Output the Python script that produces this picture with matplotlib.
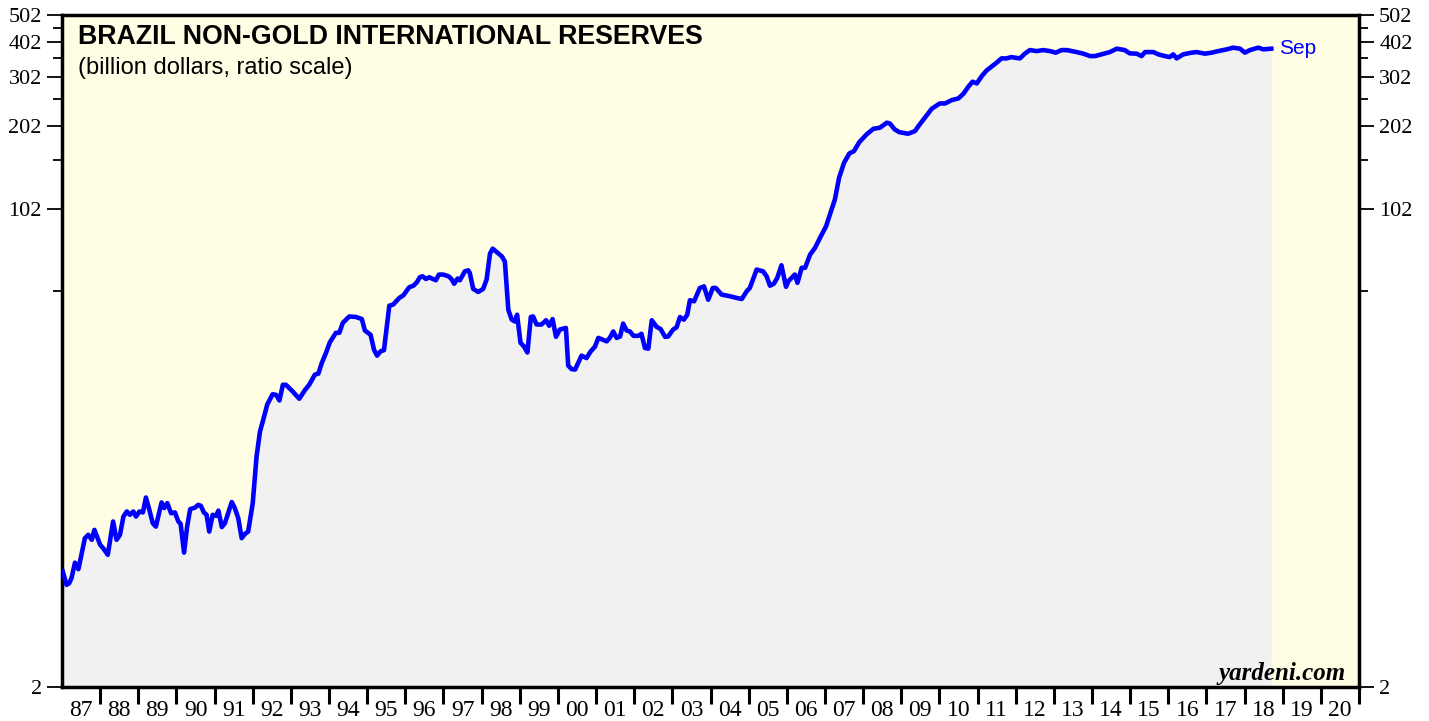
import matplotlib
matplotlib.use("Agg")
import matplotlib.pyplot as plt
from matplotlib.ticker import FixedLocator, NullFormatter, FixedFormatter

# Decimal-year dates and reserve values (billion US$)
dates = [1987.02, 1987.12, 1987.19, 1987.25, 1987.34, 1987.43, 1987.60, 1987.69, 1987.78, 1987.85,
         1988.00, 1988.08, 1988.20, 1988.34, 1988.43, 1988.52, 1988.61, 1988.70, 1988.78, 1988.87,
         1988.94, 1989.03, 1989.12, 1989.20, 1989.29, 1989.38, 1989.46, 1989.61, 1989.68, 1989.76,
         1989.86, 1989.96, 1990.05, 1990.11, 1990.20, 1990.28, 1990.36, 1990.49, 1990.57, 1990.64,
         1990.72, 1990.79, 1990.86, 1990.95, 1991.04, 1991.10, 1991.19, 1991.27, 1991.45, 1991.53,
         1991.62, 1991.71, 1991.80, 1991.88, 1992.00, 1992.10, 1992.19, 1992.28, 1992.38, 1992.52,
         1992.61, 1992.70, 1992.79, 1992.87, 1993.05, 1993.22, 1993.37, 1993.48, 1993.63, 1993.72,
         1993.81, 1993.92, 1994.02, 1994.18, 1994.27, 1994.36, 1994.53, 1994.71, 1994.86, 1994.94,
         1995.09, 1995.18, 1995.26, 1995.35, 1995.44, 1995.58, 1995.68, 1995.84, 1995.95, 1996.10,
         1996.21, 1996.30, 1996.38, 1996.45, 1996.54, 1996.63, 1996.72, 1996.80, 1996.88, 1996.99,
         1997.13, 1997.21, 1997.28, 1997.37, 1997.43, 1997.56, 1997.65, 1997.69, 1997.78, 1997.91,
         1998.04, 1998.13, 1998.22, 1998.29, 1998.39, 1998.53, 1998.61, 1998.70, 1998.79, 1998.87,
         1998.93, 1999.02, 1999.11, 1999.20, 1999.29, 1999.35, 1999.44, 1999.57, 1999.69, 1999.77,
         1999.86, 1999.95, 2000.05, 2000.21, 2000.27, 2000.36, 2000.45, 2000.62, 2000.75, 2000.86,
         2000.97, 2001.06, 2001.28, 2001.36, 2001.45, 2001.54, 2001.63, 2001.71, 2001.80, 2001.89,
         2001.98, 2002.11, 2002.19, 2002.28, 2002.37, 2002.46, 2002.59, 2002.69, 2002.81, 2002.89,
         2003.02, 2003.11, 2003.20, 2003.30, 2003.39, 2003.46, 2003.57, 2003.72, 2003.83, 2003.94,
         2004.06, 2004.14, 2004.29, 2004.51, 2004.69, 2004.82, 2004.95, 2005.03, 2005.21, 2005.38,
         2005.47, 2005.56, 2005.66, 2005.75, 2005.86, 2005.98, 2006.04, 2006.21, 2006.28, 2006.39,
         2006.48, 2006.61, 2006.74, 2006.87, 2007.03, 2007.13, 2007.26, 2007.37, 2007.50, 2007.64,
         2007.76, 2007.90, 2008.09, 2008.27, 2008.44, 2008.62, 2008.70, 2008.83, 2008.95, 2009.18,
         2009.36, 2009.45, 2009.62, 2009.80, 2010.01, 2010.15, 2010.32, 2010.50, 2010.63, 2010.76,
         2010.87, 2010.98, 2011.11, 2011.24, 2011.41, 2011.50, 2011.63, 2011.76, 2011.89, 2011.98,
         2012.11, 2012.24, 2012.37, 2012.55, 2012.72, 2012.90, 2013.05, 2013.20, 2013.34, 2013.60,
         2013.77, 2013.95, 2014.08, 2014.25, 2014.47, 2014.65, 2014.86, 2014.99, 2015.17, 2015.30,
         2015.39, 2015.61, 2015.74, 2015.91, 2016.04, 2016.13, 2016.22, 2016.39, 2016.61, 2016.74,
         2016.96, 2017.14, 2017.31, 2017.53, 2017.70, 2017.88, 2018.01, 2018.14, 2018.36, 2018.49,
         2018.70]

reserves = [5.17, 4.63, 4.70, 4.90, 5.56, 5.27, 6.80, 6.99, 6.71, 7.28,
            6.44, 6.26, 5.93, 7.80, 6.71, 6.99, 8.12, 8.47, 8.24, 8.47,
            8.12, 8.47, 8.40, 9.50, 8.58, 7.69, 7.48, 9.12, 8.71, 9.07,
            8.35, 8.40, 7.80, 7.65, 6.04, 7.48, 8.63, 8.75, 8.94, 8.87,
            8.40, 8.24, 7.18, 8.24, 8.17, 8.53, 7.45, 7.69, 9.15, 8.71,
            8.02, 6.80, 7.05, 7.18, 9.07, 13.3, 16.35, 18.1, 20.4, 22.2,
            22.1, 21.1, 24.0, 24.0, 22.7, 21.4, 23.0, 24.0, 26.1, 26.3,
            28.7, 31.2, 34.0, 36.8, 36.8, 39.9, 42.1, 41.9, 41.2, 37.5,
            36.2, 32.0, 30.5, 31.6, 31.9, 46.0, 46.4, 49.0, 50.1, 53.5,
            54.2, 55.7, 58.1, 58.6, 57.3, 58.1, 57.3, 56.7, 59.4, 59.4,
            58.6, 57.3, 55.1, 57.5, 56.7, 61.0, 61.5, 60.2, 52.8, 51.5,
            52.8, 57.0, 70.6, 73.5, 71.6, 69.0, 66.1, 44.5, 41.0, 40.4,
            42.7, 33.9, 32.9, 31.3, 41.9, 42.1, 39.4, 39.4, 40.8, 39.0,
            41.2, 35.6, 37.8, 38.3, 28.1, 27.3, 27.2, 30.5, 29.9, 31.6,
            32.8, 35.3, 34.3, 35.3, 37.2, 35.3, 35.7, 39.7, 37.5, 37.2,
            35.9, 35.9, 36.5, 32.5, 32.3, 40.8, 38.6, 38.0, 35.6, 35.7,
            37.8, 38.5, 41.9, 41.0, 42.7, 48.1, 47.7, 53.2, 53.9, 48.3,
            53.2, 53.2, 50.4, 49.7, 49.0, 48.6, 51.8, 53.2, 61.9, 61.0,
            58.6, 54.2, 55.1, 57.8, 64.1, 53.7, 56.2, 59.4, 55.5, 62.8,
            62.8, 70.0, 74.0, 80.3, 88.4, 97.3, 110.1, 131.6, 148.9, 160.8,
            163.9, 176.4, 188.0, 197.0, 198.7, 207.0, 205.8, 195.9, 191.6, 189.1,
            193.2, 201.3, 215.7, 232.3, 242.6, 242.6, 249.3, 252.9, 262.8, 278.4,
            290.1, 286.0, 303.7, 318.4, 331.7, 339.2, 351.4, 351.4, 355.2, 353.4,
            351.4, 365.3, 376.2, 373.1, 376.2, 373.1, 368.3, 376.2, 376.2, 370.1,
            365.3, 358.1, 358.1, 363.2, 370.1, 380.6, 376.2, 366.2, 365.3, 358.1,
            370.1, 370.1, 363.2, 358.1, 355.2, 363.2, 351.4, 363.2, 368.3, 370.1,
            365.3, 368.3, 373.1, 378.4, 383.8, 380.6, 368.3, 376.2, 383.8, 378.4,
            380.6]

y_ticks = [2, 102, 202, 302, 402, 502]
y_minor = [52, 152, 252, 352, 452]
year_start, year_end = 1987, 2021
year_labels = ["87", "88", "89", "90", "91", "92", "93", "94", "95", "96", "97", "98",
               "99", "00", "01", "02", "03", "04", "05", "06", "07", "08", "09", "10",
               "11", "12", "13", "14", "15", "16", "17", "18", "19", "20"]

title = "BRAZIL NON-GOLD INTERNATIONAL RESERVES"
subtitle = "(billion dollars, ratio scale)"
last_label = "Sep"

W, H = 1429, 721
fig = plt.figure(figsize=(W / 100, H / 100), dpi=100)
ax = fig.add_axes([62 / W, 1 - 687 / H, (1359 - 62) / W, (687 - 15) / H])
ax.set_facecolor("#fffee4")

ax.set_yscale("log")
ax.set_ylim(2, 502)
ax.set_xlim(year_start, year_end)

ax.fill_between(dates, reserves, 2, color="#f1f1f1", linewidth=0, zorder=1)
ax.plot(dates, reserves, color="#0000ff", linewidth=3.3, zorder=3, solid_joinstyle="round")

ax.text(dates[-1] + 0.2, reserves[-1], last_label, color="#0000ff", fontsize=15,
        family="Liberation Sans", va="center", ha="left")

# Y axis ticks
ax.yaxis.set_major_locator(FixedLocator(y_ticks))
ax.yaxis.set_major_formatter(FixedFormatter([str(t) for t in y_ticks]))
ax.yaxis.set_minor_locator(FixedLocator(y_minor))
ax.yaxis.set_minor_formatter(NullFormatter())
ax.tick_params(axis="y", which="major", left=True, right=True, labelleft=True, labelright=True,
               direction="out", length=11, width=1.3, labelsize=16, pad=3.5)
ax.tick_params(axis="y", which="minor", left=True, right=True, direction="out", length=6.5, width=1.3)

# X axis ticks: major at year boundaries, labels at mid-year
ax.xaxis.set_major_locator(FixedLocator(list(range(year_start + 1, year_end + 1))))
ax.xaxis.set_major_formatter(NullFormatter())
ax.xaxis.set_minor_locator(FixedLocator([y + 0.5 for y in range(year_start, year_end)]))
ax.xaxis.set_minor_formatter(FixedFormatter(year_labels))
ax.tick_params(axis="x", which="major", direction="out", length=12, width=2.2)
ax.tick_params(axis="x", which="minor", length=0, labelsize=17, pad=9)

for lab in ax.get_xticklabels(which="both") + ax.get_yticklabels(which="both"):
    lab.set_family("Liberation Serif")

for s in ax.spines.values():
    s.set_linewidth(2.5)
    s.set_color("black")

ax.text(0.0125, 0.987, title, transform=ax.transAxes, fontsize=19.3, fontweight="bold",
        family="Liberation Sans", va="top", ha="left")
ax.text(0.0125, 0.937, subtitle, transform=ax.transAxes, fontsize=17,
        family="Liberation Sans", va="top", ha="left")
ax.text(0.99, 0.003, "yardeni.com", transform=ax.transAxes, fontsize=18, fontweight="bold",
        style="italic", family="Liberation Serif", va="bottom", ha="right")

fig.savefig("out.png", dpi=100)
